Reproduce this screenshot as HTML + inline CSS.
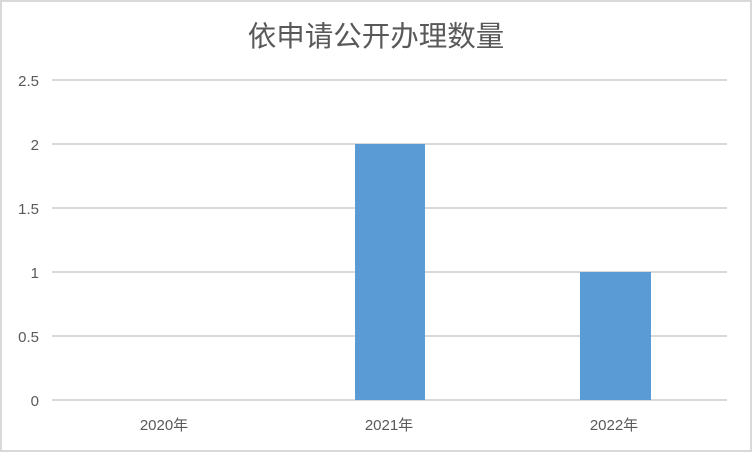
<!DOCTYPE html>
<html><head><meta charset="utf-8"><style>
html,body{margin:0;padding:0;background:#fff;}
</style></head><body>
<svg width="752" height="452" xmlns="http://www.w3.org/2000/svg" style="display:block">
<rect x="1" y="1" width="750" height="450" fill="#fff" stroke="#d9d9d9" stroke-width="2"/>
<text x="376" y="46" text-anchor="middle" font-family="'Liberation Sans','Noto Sans CJK SC',sans-serif" font-size="28.5" fill="#595959">依申请公开办理数量</text>
<g stroke="#d9d9d9" stroke-width="2">
<line x1="52" y1="80" x2="727" y2="80"/>
<line x1="52" y1="144" x2="727" y2="144"/>
<line x1="52" y1="208" x2="727" y2="208"/>
<line x1="52" y1="272" x2="727" y2="272"/>
<line x1="52" y1="336" x2="727" y2="336"/>
<line x1="52" y1="400" x2="727" y2="400"/>
</g>
<rect x="355" y="144" width="70" height="256" fill="#5b9bd5"/>
<rect x="580" y="272" width="71" height="128" fill="#5b9bd5"/>
<g font-family="'Liberation Sans','Noto Sans CJK SC',sans-serif" font-size="15" fill="#595959" text-anchor="end">
<text x="39" y="86">2.5</text>
<text x="39" y="150">2</text>
<text x="39" y="214">1.5</text>
<text x="39" y="278">1</text>
<text x="39" y="342">0.5</text>
<text x="39" y="406">0</text>
</g>
<g font-family="'Liberation Sans','Noto Sans CJK SC',sans-serif" font-size="15" fill="#595959" text-anchor="middle">
<text x="164" y="430">2020年</text>
<text x="389" y="430">2021年</text>
<text x="614" y="430">2022年</text>
</g>
</svg>
</body></html>
